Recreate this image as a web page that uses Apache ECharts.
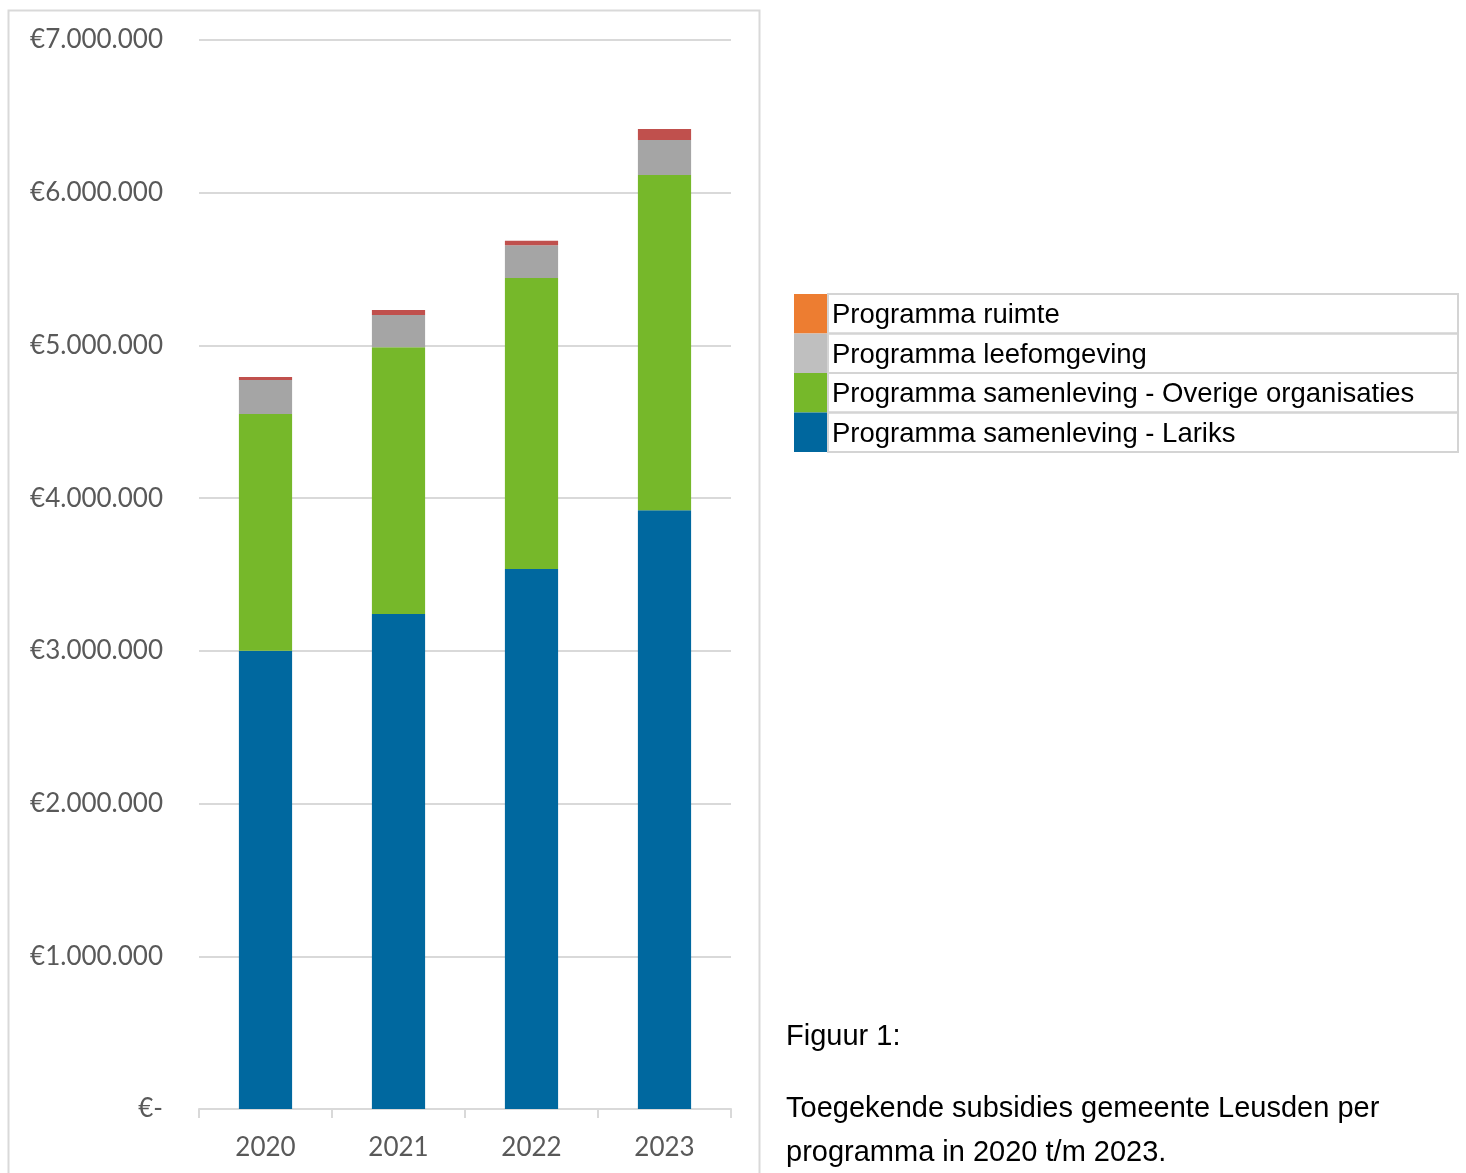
<!DOCTYPE html>
<html>
<head>
<meta charset="utf-8">
<script src="https://cdn.jsdelivr.net/npm/echarts@6/dist/echarts.min.js"></script>
<style>
html,body{margin:0;padding:0;background:#fff;}
#chart{width:1466px;height:1173px;}
</style>
</head>
<body>
<div id="chart"></div>
<script>
const categories = ['2020', '2021', '2022', '2023'];
const larik = [3000000, 3242000, 3536000, 3920000];
const overige = [1551000, 1746000, 1906000, 2196000];
const leefomgeving = [223000, 211000, 214000, 229000];
const ruimte = [20000, 33000, 30000, 72000];
const yTicks = [0, 1000000, 2000000, 3000000, 4000000, 5000000, 6000000, 7000000];

const legendLabels = ['Programma ruimte', 'Programma leefomgeving', 'Programma samenleving - Overige organisaties', 'Programma samenleving - Lariks'];
const legendColors = ['#ED7D31', '#BFBFBF', '#76B82A', '#00679E'];
const captionTitle = 'Figuur 1:';
const captionLines = ['Toegekende subsidies gemeente Leusden per', 'programma in 2020 t/m 2023.'];

function euro(v) {
  if (v === 0) return '€-';
  return '€' + String(v).replace(/\B(?=(\d{3})+(?!\d))/g, '.');
}

const chart = echarts.init(document.getElementById('chart'));

const txtFont = '"Liberation Sans Narrow", "Liberation Sans", sans-serif';
const graphics = [];
graphics.push({
  type: 'rect', shape: {x: 8.5, y: 10.5, width: 751, height: 1200},
  style: {fill: 'none', stroke: '#d9d9d9', lineWidth: 2}, silent: true, z: -1
});
const lx = 794, ly = 294, rowH = 39.5, sw = 34, lw = 664;
legendLabels.forEach((lab, i) => {
  const y = ly + i * rowH;
  graphics.push({type: 'rect', shape: {x: lx, y: y, width: sw, height: rowH}, style: {fill: legendColors[i]}});
  graphics.push({type: 'rect', shape: {x: lx + sw, y: y, width: lw - sw, height: rowH}, style: {fill: 'none', stroke: '#d4d4d4', lineWidth: 2}});
  graphics.push({type: 'text', x: lx + sw + 4, y: y + rowH / 2 + 2, style: {text: lab, font: '27.5px ' + txtFont, fill: '#000', verticalAlign: 'middle'}});
});
graphics.push({type: 'text', x: 786, y: 1037, style: {text: captionTitle, font: '29px ' + txtFont, fill: '#000', verticalAlign: 'middle'}});
captionLines.forEach((t, i) => {
  graphics.push({type: 'text', x: 786, y: 1109 + i * 44, style: {text: t, font: '29px ' + txtFont, fill: '#000', verticalAlign: 'middle'}});
});

const seriesDefs = [
  {name: 'Programma samenleving - Lariks', data: larik, color: '#00689F'},
  {name: 'Programma samenleving - Overige organisaties', data: overige, color: '#76B82A'},
  {name: 'Programma leefomgeving', data: leefomgeving, color: '#A5A5A5'},
  {name: 'Programma ruimte', data: ruimte, color: '#C0504D'}
];

chart.setOption({
  animation: false,
  backgroundColor: '#fff',
  grid: {left: 199, right: 735, top: 40, bottom: 64},
  xAxis: {
    type: 'category', data: categories, boundaryGap: true,
    axisLine: {show: true, lineStyle: {color: '#d9d9d9', width: 2}},
    axisTick: {show: true, length: 9, lineStyle: {color: '#d9d9d9', width: 2}},
    axisLabel: {color: '#595959', fontSize: 26, fontFamily: 'Lato, "Open Sans", sans-serif', margin: 26}
  },
  yAxis: {
    type: 'value', min: 0, max: 7000000, interval: 1000000,
    axisLine: {show: false}, axisTick: {show: false},
    splitLine: {lineStyle: {color: '#d9d9d9', width: 2}},
    axisLabel: {color: '#595959', fontSize: 26, fontFamily: 'Lato, "Open Sans", sans-serif', margin: 36, formatter: euro}
  },
  graphic: graphics,
  series: seriesDefs.map(s => ({
    name: s.name, type: 'bar', stack: 'total', data: s.data, barWidth: '40%',
    itemStyle: {color: s.color}
  }))
});
</script>
</body>
</html>
